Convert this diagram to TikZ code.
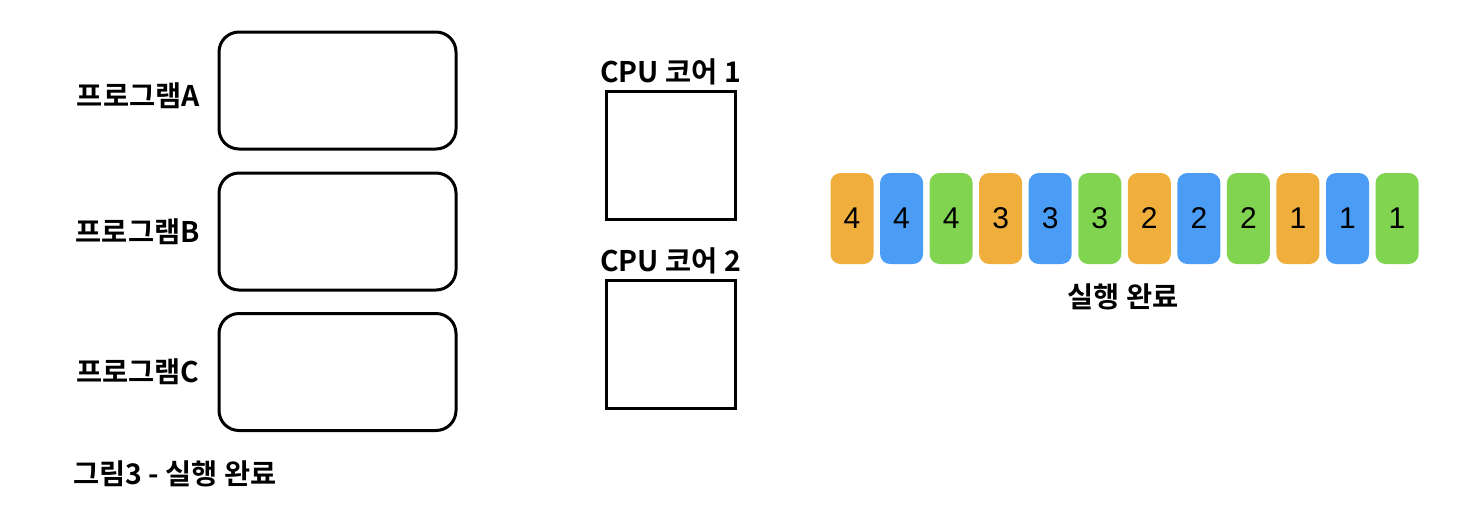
\documentclass[tikz,border=0pt]{standalone}
\usepackage{fontspec}
\newfontfamily\kr{Noto Sans CJK KR}[BoldFont={* Bold}]
\newfontfamily\num{Liberation Sans}
\definecolor{cor}{HTML}{F0AE3C}
\definecolor{cbl}{HTML}{4A9CF5}
\definecolor{cgr}{HTML}{80D44F}
\begin{document}
\begin{tikzpicture}[x=0.5pt,y=-0.5pt,
  prog/.style={draw=black,line width=1.5pt,rounded corners=10pt,minimum width=118.5pt,minimum height=58.5pt,inner sep=0pt},
  core/.style={draw=black,line width=1.5pt,minimum width=64.5pt,minimum height=64pt,inner sep=0pt},
  lbl/.style={font=\kr\bfseries\fontsize{14.2}{16}\selectfont,inner sep=0pt},
  blk/.style={fill=#1,draw=none,rounded corners=5pt,minimum width=21.5pt,minimum height=45.5pt,inner sep=0pt,font=\num\fontsize{15}{17}\selectfont}]
\useasboundingbox (0,0) rectangle (1482,526);
\node[prog] (pA) at (337.5,90.5) {};
\node[prog] (pB) at (337.5,231.5) {};
\node[prog] (pC) at (337.5,372) {};
\node[lbl,anchor=east] (lA) at (200,96) {프로그램A};
\node[lbl,anchor=east] (lB) at (200,232) {프로그램B};
\node[lbl,anchor=east] (lC) at (200,372) {프로그램C};
\node[core] (c1) at (670.5,155) {};
\node[core] (c2) at (670.5,344.5) {};
\node[lbl] (t1) at (670.5,72) {CPU 코어 1};
\node[lbl] (t2) at (670.5,261) {CPU 코어 2};
\foreach \i/\c/\n in {0/cor/4,1/cbl/4,2/cgr/4,3/cor/3,4/cbl/3,5/cgr/3,6/cor/2,7/cbl/2,8/cgr/2,9/cor/1,10/cbl/1,11/cgr/1}{
  \node[blk=\c] (b\i) at ({852+49.55*\i},218.5) {\n};
}
\node[lbl] (done) at (1123,297) {실행 완료};
\node[lbl,anchor=west] (cap) at (73,474) {그림3 - 실행 완료};
\end{tikzpicture}
\end{document}
